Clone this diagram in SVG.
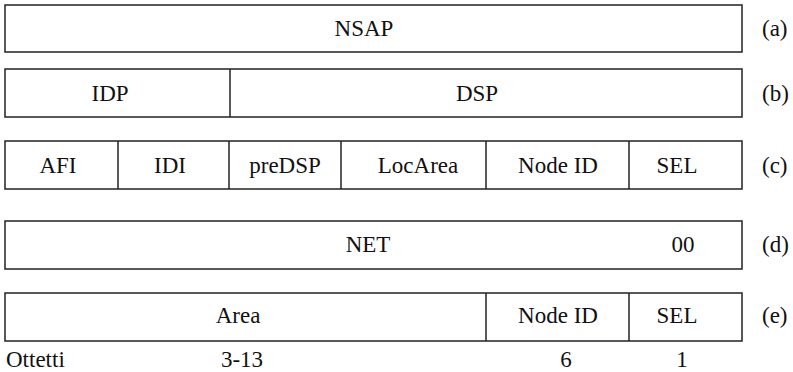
<svg xmlns="http://www.w3.org/2000/svg" width="793" height="372" viewBox="0 0 793 372">
<style>
.box{fill:#fff;stroke:#222;stroke-width:1.5}
.div{stroke:#222;stroke-width:1.5}
text{font-family:'Liberation Serif','Times New Roman',serif;font-size:23px;fill:#111;text-anchor:middle}
.lab{text-anchor:start}
</style>
<rect width="793" height="372" fill="#fff"/>
<g id="row-a">
<rect class="box" x="5" y="5" width="737" height="47"/>
<text x="364" y="36">NSAP</text>
<text class="lab" x="762" y="36">(a)</text>
</g>
<g id="row-b">
<rect class="box" x="5" y="69" width="737" height="48"/>
<line class="div" x1="230" y1="69" x2="230" y2="117"/>
<text x="110" y="101">IDP</text>
<text x="477" y="101">DSP</text>
<text class="lab" x="762" y="101">(b)</text>
</g>
<g id="row-c">
<rect class="box" x="5" y="141" width="737" height="48"/>
<line class="div" x1="118" y1="141" x2="118" y2="189"/>
<line class="div" x1="229" y1="141" x2="229" y2="189"/>
<line class="div" x1="341" y1="141" x2="341" y2="189"/>
<line class="div" x1="486" y1="141" x2="486" y2="189"/>
<line class="div" x1="629" y1="141" x2="629" y2="189"/>
<text x="58" y="173">AFI</text>
<text x="170" y="173">IDI</text>
<text x="285" y="173">preDSP</text>
<text x="418" y="173">LocArea</text>
<text x="558" y="173">Node ID</text>
<text x="677" y="173">SEL</text>
<text class="lab" x="762" y="173">(c)</text>
</g>
<g id="row-d">
<rect class="box" x="5" y="221" width="737" height="48"/>
<text x="368" y="252">NET</text>
<text x="683" y="252">00</text>
<text class="lab" x="762" y="252">(d)</text>
</g>
<g id="row-e">
<rect class="box" x="5" y="293" width="737" height="48"/>
<line class="div" x1="486" y1="293" x2="486" y2="341"/>
<line class="div" x1="629" y1="293" x2="629" y2="341"/>
<text x="238" y="323">Area</text>
<text x="558" y="323">Node ID</text>
<text x="677" y="323">SEL</text>
<text class="lab" x="762" y="323">(e)</text>
</g>
<g id="octets">
<text class="lab" x="6" y="367">Ottetti</text>
<text x="242" y="367">3-13</text>
<text x="566" y="367">6</text>
<text x="682" y="367">1</text>
</g>
<g id="connectors"/>
</svg>
